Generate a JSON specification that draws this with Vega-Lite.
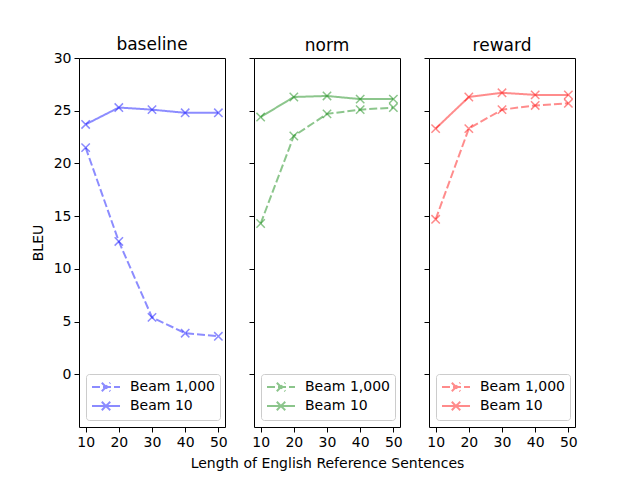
{
  "$schema": "https://vega.github.io/schema/vega-lite/v6.json",
  "background": "white",
  "padding": {"left": 30, "top": 35, "right": 5, "bottom": 5},
  "bounds": "flush",
  "config": {
    "font": "DejaVu Sans",
    "view": {"stroke": "black", "strokeWidth": 1},
    "axis": {"grid": false, "domain": false, "tickColor": "black", "tickSize": 5, "labelFontSize": 14, "labelColor": "black", "titleFontSize": 14, "titleFontWeight": "normal", "titleColor": "black", "labelPadding": 3},
    "title": {"fontSize": 17, "fontWeight": "normal", "color": "black", "offset": 3},
    "legend": {"orient": "bottom-left", "offset": 7, "fillColor": "white", "strokeColor": "#cccccc", "cornerRadius": 3, "padding": 5, "labelFontSize": 14, "labelColor": "black", "title": null, "symbolSize": 196, "symbolStrokeWidth": 2, "symbolOpacity": 0.45, "rowPadding": 1, "symbolOffset": 7, "labelOffset": 16, "symbolType": "M-2,0H2M-0.6,-0.6L0.6,0.6M-0.6,0.6L0.6,-0.6"}
  },
  "data": {"values": [
    {"model": "baseline", "beam": "Beam 10", "length": 10, "bleu": 23.7},
    {"model": "baseline", "beam": "Beam 10", "length": 20, "bleu": 25.3},
    {"model": "baseline", "beam": "Beam 10", "length": 30, "bleu": 25.1},
    {"model": "baseline", "beam": "Beam 10", "length": 40, "bleu": 24.8},
    {"model": "baseline", "beam": "Beam 10", "length": 50, "bleu": 24.8},
    {"model": "baseline", "beam": "Beam 1,000", "length": 10, "bleu": 21.5},
    {"model": "baseline", "beam": "Beam 1,000", "length": 20, "bleu": 12.6},
    {"model": "baseline", "beam": "Beam 1,000", "length": 30, "bleu": 5.4},
    {"model": "baseline", "beam": "Beam 1,000", "length": 40, "bleu": 3.9},
    {"model": "baseline", "beam": "Beam 1,000", "length": 50, "bleu": 3.6},
    {"model": "norm", "beam": "Beam 10", "length": 10, "bleu": 24.4},
    {"model": "norm", "beam": "Beam 10", "length": 20, "bleu": 26.3},
    {"model": "norm", "beam": "Beam 10", "length": 30, "bleu": 26.4},
    {"model": "norm", "beam": "Beam 10", "length": 40, "bleu": 26.1},
    {"model": "norm", "beam": "Beam 10", "length": 50, "bleu": 26.1},
    {"model": "norm", "beam": "Beam 1,000", "length": 10, "bleu": 14.3},
    {"model": "norm", "beam": "Beam 1,000", "length": 20, "bleu": 22.6},
    {"model": "norm", "beam": "Beam 1,000", "length": 30, "bleu": 24.7},
    {"model": "norm", "beam": "Beam 1,000", "length": 40, "bleu": 25.1},
    {"model": "norm", "beam": "Beam 1,000", "length": 50, "bleu": 25.3},
    {"model": "reward", "beam": "Beam 10", "length": 10, "bleu": 23.3},
    {"model": "reward", "beam": "Beam 10", "length": 20, "bleu": 26.3},
    {"model": "reward", "beam": "Beam 10", "length": 30, "bleu": 26.7},
    {"model": "reward", "beam": "Beam 10", "length": 40, "bleu": 26.5},
    {"model": "reward", "beam": "Beam 10", "length": 50, "bleu": 26.5},
    {"model": "reward", "beam": "Beam 1,000", "length": 10, "bleu": 14.7},
    {"model": "reward", "beam": "Beam 1,000", "length": 20, "bleu": 23.3},
    {"model": "reward", "beam": "Beam 1,000", "length": 30, "bleu": 25.1},
    {"model": "reward", "beam": "Beam 1,000", "length": 40, "bleu": 25.5},
    {"model": "reward", "beam": "Beam 1,000", "length": 50, "bleu": 25.7}
  ]},
  "spacing": 29,
  "resolve": {"scale": {"strokeDash": "independent", "y": "shared"}, "legend": {"strokeDash": "independent"}},
  "hconcat": [
    {
      "title": {"text": "baseline", "offset": -3},
      "width": 146, "height": 369,
      "transform": [{"filter": "datum.model == 'baseline'"}],
      "encoding": {
        "x": {"field": "length", "type": "quantitative", "scale": {"domain": [8, 52], "nice": false}, "axis": {"values": [10, 20, 30, 40, 50], "title": null}},
        "y": {"field": "bleu", "type": "quantitative", "scale": {"domain": [-5, 30], "nice": false, "zero": false}, "axis": {"values": [0, 5, 10, 15, 20, 25, 30], "title": "BLEU", "titlePadding": 8}}
      },
      "layer": [
        {"mark": {"type": "line", "color": "#0000ff", "opacity": 0.45, "strokeWidth": 2},
         "encoding": {"strokeDash": {"field": "beam", "type": "nominal", "scale": {"domain": ["Beam 1,000", "Beam 10"], "range": [[8, 3], [1, 0]]}, "legend": {"symbolStrokeColor": "#0000ff"}}}},
        {"mark": {"type": "point", "shape": "M-1,-1L1,1M-1,1L1,-1", "filled": false, "color": "#0000ff", "opacity": 0.45, "size": 70, "strokeWidth": 1.5},
         "encoding": {"detail": {"field": "beam"}}}
      ]
    },
    {
      "title": "norm",
      "width": 146, "height": 369,
      "transform": [{"filter": "datum.model == 'norm'"}],
      "encoding": {
        "x": {"field": "length", "type": "quantitative", "scale": {"domain": [8, 52], "nice": false}, "axis": {"values": [10, 20, 30, 40, 50], "title": "Length of English Reference Sentences", "titlePadding": 7}},
        "y": {"field": "bleu", "type": "quantitative", "scale": {"domain": [-5, 30], "nice": false, "zero": false}, "axis": {"values": [0, 5, 10, 15, 20, 25, 30], "labels": false, "title": null}}
      },
      "layer": [
        {"mark": {"type": "line", "color": "#008000", "opacity": 0.45, "strokeWidth": 2},
         "encoding": {"strokeDash": {"field": "beam", "type": "nominal", "scale": {"domain": ["Beam 1,000", "Beam 10"], "range": [[8, 3], [1, 0]]}, "legend": {"symbolStrokeColor": "#008000"}}}},
        {"mark": {"type": "point", "shape": "M-1,-1L1,1M-1,1L1,-1", "filled": false, "color": "#008000", "opacity": 0.45, "size": 70, "strokeWidth": 1.5},
         "encoding": {"detail": {"field": "beam"}}}
      ]
    },
    {
      "title": "reward",
      "width": 146, "height": 369,
      "transform": [{"filter": "datum.model == 'reward'"}],
      "encoding": {
        "x": {"field": "length", "type": "quantitative", "scale": {"domain": [8, 52], "nice": false}, "axis": {"values": [10, 20, 30, 40, 50], "title": null}},
        "y": {"field": "bleu", "type": "quantitative", "scale": {"domain": [-5, 30], "nice": false, "zero": false}, "axis": {"values": [0, 5, 10, 15, 20, 25, 30], "labels": false, "title": null}}
      },
      "layer": [
        {"mark": {"type": "line", "color": "#ff0000", "opacity": 0.45, "strokeWidth": 2},
         "encoding": {"strokeDash": {"field": "beam", "type": "nominal", "scale": {"domain": ["Beam 1,000", "Beam 10"], "range": [[8, 3], [1, 0]]}, "legend": {"symbolStrokeColor": "#ff0000"}}}},
        {"mark": {"type": "point", "shape": "M-1,-1L1,1M-1,1L1,-1", "filled": false, "color": "#ff0000", "opacity": 0.45, "size": 70, "strokeWidth": 1.5},
         "encoding": {"detail": {"field": "beam"}}}
      ]
    }
  ]
}
